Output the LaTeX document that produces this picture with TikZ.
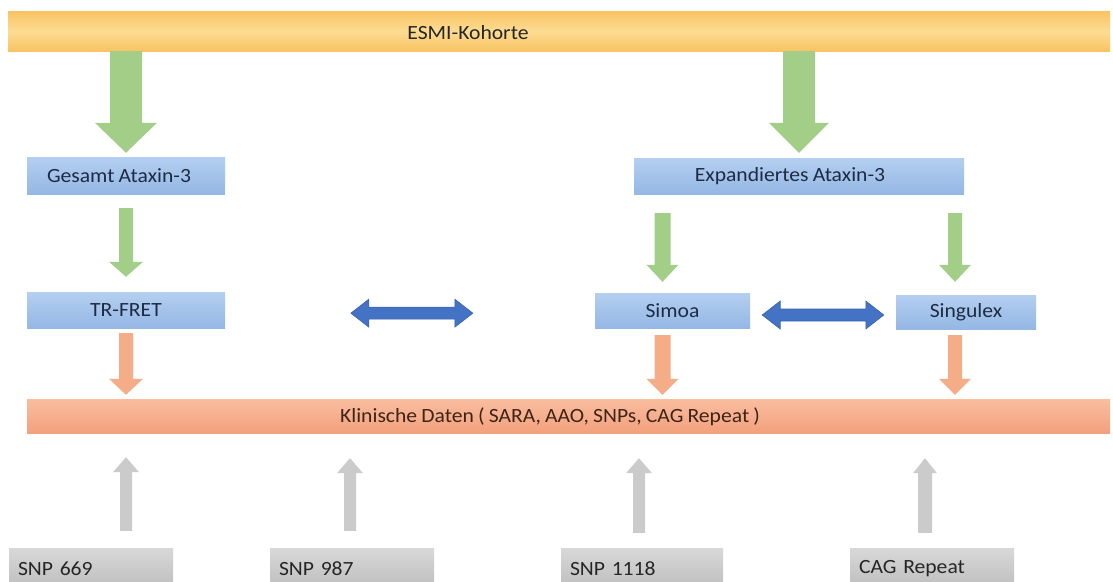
\documentclass[tikz,border=0pt]{standalone}
\usepackage{fontspec}
\setmainfont[FakeStretch=1.07, WordSpace=0.85]{Carlito}
\usetikzlibrary{calc}

\definecolor{barOrangeEdge}{HTML}{F8C463}
\definecolor{barOrangeMid}{HTML}{FDDB92}
\definecolor{boxBlueTop}{HTML}{B4CFF0}
\definecolor{boxBlueBot}{HTML}{94B7E4}
\definecolor{arrowGreen}{HTML}{A3CE88}
\definecolor{arrowOrange}{HTML}{F5AD88}
\definecolor{dataTop}{HTML}{F9BE9F}
\definecolor{dataBot}{HTML}{F3A07C}
\definecolor{arrowBlue}{HTML}{4472C4}
\definecolor{arrowBlueEdge}{HTML}{3A63AE}
\definecolor{greyTop}{HTML}{D8D8D8}
\definecolor{greyBot}{HTML}{BDBDBD}
\definecolor{arrowGrey}{HTML}{CBCBCB}
\definecolor{inkDark}{HTML}{262626}
\definecolor{inkNavy}{HTML}{1E2B45}
\definecolor{inkBrown}{HTML}{3F2418}

% down block arrow: #1 top point, #2 tip point, #3 shaft half width,
% #4 head half width, #5 head length, #6 fill colour
\newcommand\downblock[6]{%
  \fill[#6] let \p1=#1, \p2=#2 in
    ({\x1-#3},\y1) -- ({\x1+#3},\y1) -- ({\x1+#3},{\y2+#5}) --
    ({\x1+#4},{\y2+#5}) -- (\x1,\y2) -- ({\x1-#4},{\y2+#5}) --
    ({\x1-#3},{\y2+#5}) -- cycle;}
% up block arrow: #1 bottom point, #2 tip point
\newcommand\upblock[6]{%
  \fill[#6] let \p1=#1, \p2=#2 in
    ({\x1-#3},\y1) -- ({\x1+#3},\y1) -- ({\x1+#3},{\y2-#5}) --
    ({\x1+#4},{\y2-#5}) -- (\x1,\y2) -- ({\x1-#4},{\y2-#5}) --
    ({\x1-#3},{\y2-#5}) -- cycle;}
% horizontal double block arrow between #1 (left tip) and #2 (right tip)
\newcommand\doubleblock[5]{%
  \filldraw[#5] let \p1=#1, \p2=#2 in
    (\x1,\y1) -- ({\x1+#4},{\y1+#3}) -- ({\x1+#4},{\y1+6pt}) --
    ({\x2-#4},{\y1+6pt}) -- ({\x2-#4},{\y1+#3}) -- (\x2,\y1) --
    ({\x2-#4},{\y1-#3}) -- ({\x2-#4},{\y1-6pt}) -- ({\x1+#4},{\y1-6pt}) --
    ({\x1+#4},{\y1-#3}) -- cycle;}

\tikzset{
  txt/.style={font=\fontsize{20.2}{23}\selectfont, inner sep=0pt},
  wideband/.style={draw=none, inner sep=0pt},
  bluebox/.style={draw=none, top color=boxBlueTop, bottom color=boxBlueBot,
    inner sep=0pt, txt, text=inkNavy},
  greybox/.style={draw=none, top color=greyTop, bottom color=greyBot,
    inner sep=0pt, inner xsep=9pt, txt, text=inkDark, align=left},
}

\begin{document}
\begin{tikzpicture}[x=1pt, y=-1pt]
\clip (0,0) rectangle (1113,581);
\fill[white] (0,0) rectangle (1113,581);

% cohort band
\node[wideband, minimum width=1102pt, minimum height=40pt,
  top color=barOrangeEdge, bottom color=barOrangeEdge, middle color=barOrangeMid]
  (esmi) at (559,31) {};
\node[txt, text=inkDark] (esmilabel) at (468,33) {ESMI-Kohorte};

% assay boxes
\node[bluebox, minimum width=198pt, minimum height=37pt] (gesamt) at (126,175.5) {Gesamt Ataxin-3\hspace*{14pt}};
\node[bluebox, minimum width=330pt, minimum height=36pt] (expand) at (799,176) {Expandiertes Ataxin-3\hspace*{18pt}};
\node[bluebox, minimum width=198pt, minimum height=36pt] (trfret) at (126,310) {TR-FRET};
\node[bluebox, minimum width=155pt, minimum height=35pt] (simoa) at (672.5,310.5) {Simoa};
\node[bluebox, minimum width=140pt, minimum height=34pt] (singulex) at (966,312) {Singulex};

% clinical data band
\node[wideband, minimum width=1083pt, minimum height=34pt,
  top color=dataTop, bottom color=dataBot] (klin) at (568.5,416) {};
\node[txt, text=inkBrown] (klinlabel) at (550,417) {Klinische Daten ( SARA, AAO, SNPs, CAG Repeat )};

% genetic inputs
\node[greybox, minimum width=164pt, minimum height=42pt, text width=146pt] (snpa) at (91,569) {SNP 669};
\node[greybox, minimum width=164pt, minimum height=42pt, text width=146pt] (snpb) at (352,569) {SNP 987};
\node[greybox, minimum width=162pt, minimum height=42pt, text width=144pt] (snpc) at (642,569) {SNP 1118};
\node[greybox, minimum width=164pt, minimum height=42pt, text width=146pt] (cag) at (932,569) {CAG Repeat};

% cohort -> total / expanded ataxin-3
\downblock{(esmi.south -| gesamt.north)}{([yshift=4pt]gesamt.north)}{16pt}{31pt}{30pt}{arrowGreen}
\downblock{(esmi.south -| expand.north)}{([yshift=5pt]expand.north)}{16pt}{30pt}{30pt}{arrowGreen}

% ataxin-3 -> assays
\downblock{([yshift=-14pt]gesamt.south)}{([yshift=15pt]trfret.north)}{7pt}{17pt}{15pt}{arrowGreen}
\downblock{([xshift=-10pt,yshift=-19pt]expand.south -| simoa.north)}{([xshift=-10pt,yshift=11pt]simoa.north)}{8pt}{16pt}{17pt}{arrowGreen}
\downblock{([xshift=-11pt,yshift=-19pt]expand.south -| singulex.north)}{([xshift=-11pt,yshift=13pt]singulex.north)}{7pt}{16pt}{17pt}{arrowGreen}

% assays -> clinical data
\downblock{([yshift=-5pt]trfret.south)}{([yshift=4pt]klin.north -| trfret.south)}{7pt}{17pt}{16pt}{arrowOrange}
\downblock{([xshift=-10pt,yshift=-7pt]simoa.south)}{([xshift=-10pt,yshift=4pt]klin.north -| simoa.south)}{8pt}{16pt}{16pt}{arrowOrange}
\downblock{([xshift=-11pt,yshift=-6pt]singulex.south)}{([xshift=-11pt,yshift=4pt]klin.north -| singulex.south)}{7pt}{16pt}{16pt}{arrowOrange}

% assay comparisons
\coordinate (cmpL) at ($(trfret.east)!0.34!(simoa.west)$);
\coordinate (cmpR) at ($(trfret.east)!0.67!(simoa.west)$);
\doubleblock{([yshift=-3pt]cmpL)}{([yshift=-3pt]cmpR)}{14pt}{18pt}{fill=arrowBlue, draw=arrowBlueEdge, line width=0.6pt}
\doubleblock{([xshift=12pt,yshift=-4.5pt]simoa.east)}{([xshift=-12pt,yshift=-4.5pt]simoa.east -| singulex.west)}{14pt}{18pt}{fill=arrowBlue, draw=arrowBlueEdge, line width=0.6pt}

% genetic inputs -> clinical data
\upblock{([xshift=35pt,yshift=17pt]snpa.north)}{([xshift=35pt,yshift=-24pt]klin.south -| snpa.north)}{6pt}{13pt}{15pt}{arrowGrey}
\upblock{([yshift=17pt]snpb.north -| 350,0)}{([yshift=-25pt]klin.south -| 350,0)}{6pt}{13pt}{15pt}{arrowGrey}
\upblock{([yshift=15pt]snpc.north -| 639,0)}{([yshift=-25pt]klin.south -| 639,0)}{6pt}{13pt}{15pt}{arrowGrey}
\upblock{([yshift=15pt]cag.north -| 925,0)}{([yshift=-25pt]klin.south -| 925,0)}{7pt}{12pt}{15pt}{arrowGrey}
\end{tikzpicture}
\end{document}
